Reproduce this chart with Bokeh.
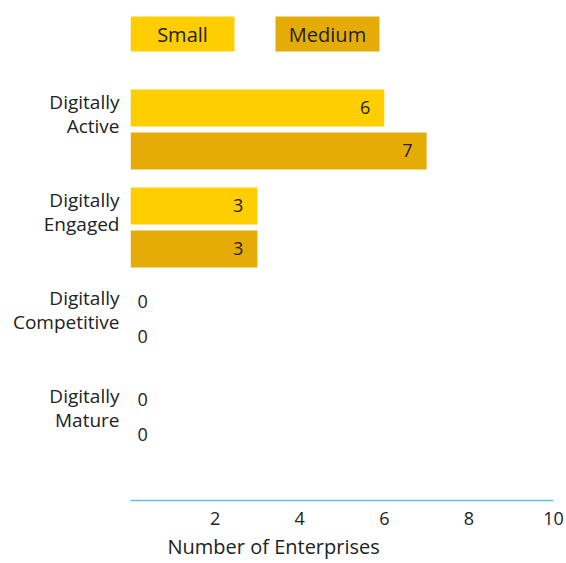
from bokeh.plotting import figure
from bokeh.models import (ColumnDataSource, Range1d, FixedTicker, CustomJSTickFormatter,
                          BoxAnnotation, Label, Title)
from bokeh.embed import file_html
from bokeh.resources import INLINE

categories = ["Digitally\nActive", "Digitally\nEngaged", "Digitally\nCompetitive", "Digitally\nMature"]
small = [6, 3, 0, 0]
medium = [7, 3, 0, 0]
series_names = ["Small", "Medium"]
x_ticks = [2, 4, 6, 8, 10]
x_title = "Number of Enterprises"

FONT = "Open Sans"
TXT = "#222222"
C_SMALL = "#FFCE00"
C_MED = "#E5AC08"

# pixel helpers (for layout only)
XPX = 42.3   # px per x unit
YPX = 98.0   # px per category
Y0 = -1.316  # data value at frame top

p = figure(width=566, height=563, output_backend="svg", toolbar_location=None,
           x_range=Range1d(0, 10), y_range=Range1d(Y0 + 500 / YPX, Y0),
           min_border_left=130, min_border_right=13, min_border_top=0, min_border_bottom=0)
p.outline_line_color = None
p.xgrid.visible = False
p.ygrid.visible = False
p.background_fill_color = "white"
p.border_fill_color = "white"

off = 21.5 / YPX
bh = 37 / YPX
idx = list(range(len(categories)))

def lab_cols(vals, dy_zero):
    xs, align, xo, yo, txt = [], [], [], [], []
    for v in vals:
        txt.append(str(v))
        xs.append(v)
        if v == 0:
            align.append("left"); xo.append(7); yo.append(dy_zero)
        else:
            align.append("right"); xo.append(-14); yo.append(0)
    return xs, align, xo, yo, txt

for vals, color, d, dz in [(small, C_SMALL, -off, -2), (medium, C_MED, off, -10)]:
    ys = [i + d for i in idx]
    src = ColumnDataSource(dict(y=ys, v=vals))
    p.hbar(y="y", left=0, right="v", height=bh, source=src, fill_color=color, line_color=None)
    xs, align, xo, yo, txt = lab_cols(vals, dz)
    lsrc = ColumnDataSource(dict(x=xs, y=ys, t=txt, a=align, xo=xo, yo=yo))
    p.text(x="x", y="y", text="t", source=lsrc, text_align="a", x_offset="xo", y_offset="yo",
           text_baseline="middle", text_font_size="18px", text_color=TXT,
           text_font={"value": FONT})

# x axis
p.xaxis.ticker = FixedTicker(ticks=x_ticks)
p.xaxis.axis_line_color = "#62C0E8"
p.xaxis.axis_line_width = 1.5
p.xaxis.major_tick_line_color = None
p.xaxis.minor_tick_line_color = None
p.xaxis.major_label_standoff = 5
p.xaxis.major_label_text_font = FONT
p.xaxis.major_label_text_font_size = "18px"
p.xaxis.major_label_text_color = TXT

# x title below the axis
p.add_layout(Title(text=x_title, align="left", offset=37, standoff=7,
                   text_font=FONT, text_font_size="20px", text_font_style="normal",
                   text_color=TXT), "below")

# y axis (labels offset upward from group centres)
shift = 15.5 / YPX
p.yaxis.ticker = FixedTicker(ticks=[i - shift for i in idx])
p.yaxis.formatter = CustomJSTickFormatter(args=dict(names=categories, shift=shift),
                                          code="return names[Math.round(tick + shift)];")
p.yaxis.axis_line_color = None
p.yaxis.major_tick_line_color = None
p.yaxis.minor_tick_line_color = None
p.yaxis.major_label_standoff = 5
p.yaxis.major_label_text_font = FONT
p.yaxis.major_label_text_font_size = "19px"
p.yaxis.major_label_text_line_height = 0.95
p.yaxis.major_label_text_color = TXT

# legend boxes
ytop = Y0 + 16 / YPX
ybot = Y0 + 51 / YPX
for name, color, x0 in [(series_names[0], C_SMALL, 0), (series_names[1], C_MED, 145 / XPX)]:
    x1 = x0 + 104 / XPX
    p.add_layout(BoxAnnotation(left=x0, right=x1, top=ytop, bottom=ybot, fill_color=color,
                               fill_alpha=1, line_color=None, level="underlay"))
    p.add_layout(Label(x=(x0 + x1) / 2, y=(ytop + ybot) / 2, text=name, text_align="center",
                       text_baseline="middle", text_font=FONT, text_font_size="20px",
                       text_color=TXT))

open("out.html", "w").write(file_html(p, INLINE))
